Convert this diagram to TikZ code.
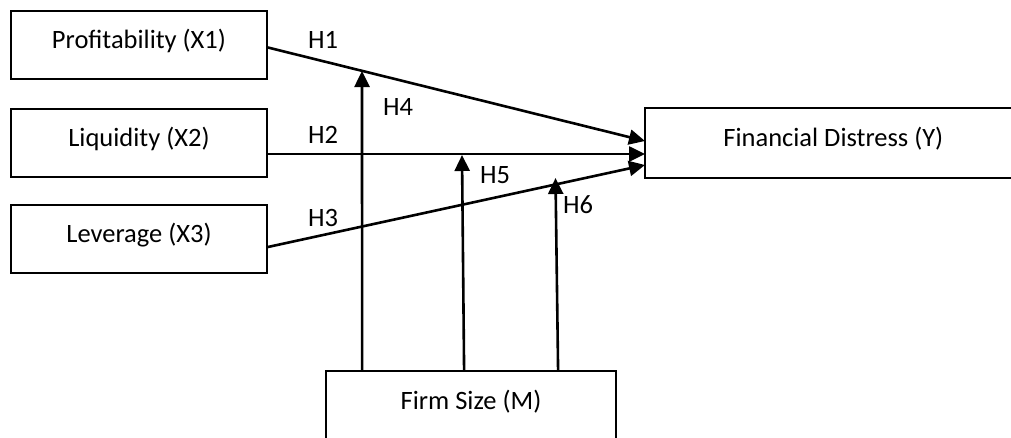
\documentclass[tikz,border=0pt]{standalone}
\usepackage{fontspec}
\setmainfont{Carlito}
\usetikzlibrary{arrows.meta}
\begin{document}
\begin{tikzpicture}[x=1pt,y=-1pt,
  box/.style={draw,line width=1.8pt,inner sep=0pt,minimum height=68pt,
    text height=17pt,text depth=11pt,font=\fontsize{26.5}{31}\selectfont},
  conn/.style={line width=2.6pt,-{Triangle[length=16pt,width=15pt]}},
  hyp/.style={font=\fontsize{26.5}{31}\selectfont,inner sep=0pt}]
\useasboundingbox (0,0) rectangle (1011,437);
\begin{scope}
\clip (0,0) rectangle (1011,437);

% variable boxes
\node[box,minimum width=256pt] (x1) at (139,45)  {Profitability (X1)};
\node[box,minimum width=256pt] (x2) at (139,143) {Liquidity (X2)};
\node[box,minimum width=256pt] (x3) at (139,239) {Leverage (X3)};
% outcome box runs off the right edge, so only three of its sides are drawn
\node[box,draw=none,minimum width=420pt,anchor=west] (y) at (645,143) {\hspace*{-45pt}Financial Distress (Y)};
\draw[line width=1.8pt] (y.north east) -- (y.north west) -- (y.south west) -- (y.south east);
% moderator box runs off the bottom edge
\node[box,draw=none,minimum width=288pt,minimum height=80pt,text height=11pt,text depth=17pt] (m) at (471,412) {Firm Size (M)};
\draw[line width=1.8pt] (m.south west) -- (m.north west) -- (m.north east) -- (m.south east);

% direct effects
\coordinate (x1o) at ([yshift=-2.5pt]x1.east);
\coordinate (x2o) at ([yshift=-11pt]x2.east);
\coordinate (x3o) at ([yshift=-8pt]x3.east);
\coordinate (y1)  at ([yshift=2pt]y.west);
\coordinate (y2)  at ([yshift=-11pt]y.west);
\coordinate (y3)  at ([yshift=-22pt]y.west);
\draw[conn] (x1o) -- (y1);
\draw[conn] (x2o) -- (y2);
\draw[conn] (x3o) -- (y3);

% moderating effects
\coordinate (m4) at ([xshift=36pt]m.north west);
\coordinate (m5) at ([xshift=138pt]m.north west);
\coordinate (m6) at ([xshift=232pt]m.north west);
\coordinate (t4) at (362,71);
\coordinate (t5) at (462,155);
\coordinate (t6) at (555.5,178);
\draw[conn] (m4) -- (t4);
\draw[conn] (m5) -- (t5);
\draw[conn] (m6) -- (t6);

% hypothesis labels
\node[hyp] (h1) at (323,40)  {H1};
\node[hyp] (h2) at (323,135) {H2};
\node[hyp] (h3) at (323,218) {H3};
\node[hyp] (h4) at (398,107) {H4};
\node[hyp] (h5) at (495,175) {H5};
\node[hyp] (h6) at (578,205) {H6};
\end{scope}
\end{tikzpicture}
\end{document}
